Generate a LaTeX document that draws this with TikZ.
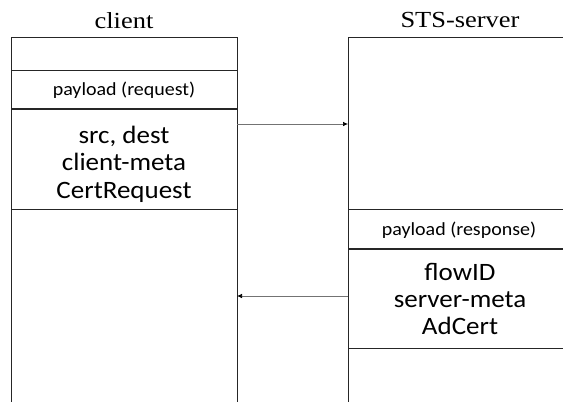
\documentclass[tikz,border=0pt]{standalone}
\usepackage{fontspec}
\newfontfamily\calibri[FakeStretch=1.08]{Carlito}
\newfontfamily\cambria[FakeStretch=1.15]{Liberation Serif}
\usetikzlibrary{arrows.meta}
\begin{document}
\begin{tikzpicture}[x=1pt,y=-1pt,line cap=butt,line join=miter,
  lane/.style={line width=0.9pt,draw=black!85},
  msg/.style={line width=0.7pt,draw=black!55,-{Latex[length=5pt,width=4.5pt,black]}},
  title/.style={font=\cambria\fontsize{23}{26}\selectfont,anchor=base},
  field/.style={font=\calibri\fontsize{18.5}{22}\selectfont},
  fields/.style={font=\calibri\fontsize{25}{27.4}\selectfont,align=center,inner sep=0pt}]
  \useasboundingbox (0,0) rectangle (563,402);
  \clip (0,0) rectangle (563,402);
  \draw[lane] (11,402) -- (11,37) -- (237,37) -- (237,402);
  \draw[lane] (11,70) -- (237,70);
  \draw[lane,line width=1.6pt] (11,109) -- (237,109);
  \draw[lane] (11,209) -- (237,209);
  \draw[lane] (348,402) -- (348,37) -- (575,37);
  \draw[lane] (348,209) -- (575,209);
  \draw[lane,line width=1.3pt] (348,249) -- (575,249);
  \draw[lane] (348,348) -- (575,348);
  \node[title] (client) at (124,28) {client};
  \node[title] (server) at (460,27) {STS-server};
  \node[field] (reqhead) at (124,90) {payload (request)};
  \node[fields] (reqbody) at (124,164) {src, dest\\client-meta\\CertRequest};
  \node[field] (resphead) at (459,230) {payload (response)};
  \node[fields] (respbody) at (460,299) {flowID\\server-meta\\AdCert};
  \coordinate (reqout) at (237,124);
  \coordinate (reqin) at (348,124);
  \coordinate (respout) at (348,296);
  \coordinate (respin) at (237,296);
  \draw[msg] (reqout) -- (reqin);
  \draw[msg] (respout) -- (respin);
\end{tikzpicture}
\end{document}
